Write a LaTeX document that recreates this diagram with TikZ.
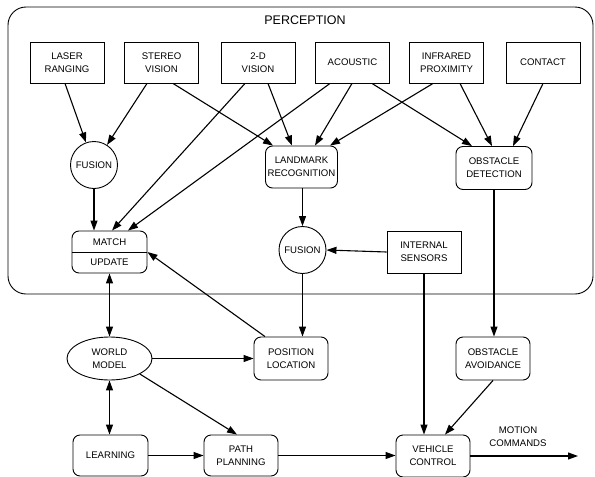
\documentclass[tikz,border=0pt]{standalone}
\usepackage{fontspec}
\setmainfont{Liberation Sans}
\usetikzlibrary{arrows.meta,shapes.geometric,calc}
\begin{document}
\begin{tikzpicture}[x=1pt,y=-1pt,
  every node/.style={font=\fontsize{9.6}{12.8}\selectfont, align=center, inner sep=0pt},
  sensor/.style={draw, line width=0.9pt, minimum width=74pt, minimum height=41pt},
  proc/.style={draw, line width=0.9pt, rounded corners=7pt, minimum width=74pt, minimum height=42pt},
  fuse/.style={draw, circle, line width=0.9pt, minimum size=47pt},
  tip/.style={Triangle[length=10pt,width=7pt]},
  arr/.style={line width=1.1pt, -{Triangle[length=10pt,width=7pt]}},
  darr/.style={line width=1.1pt, {Triangle[length=10pt,width=7pt]}-{Triangle[length=10pt,width=7pt]}},
  plain/.style={line width=1.1pt}
]
\useasboundingbox (0,0) rectangle (595,477);

% perception subsystem frame
\draw[line width=0.9pt, rounded corners=18pt] (8,7) rectangle (593,294);
\node[font=\fontsize{12.5}{14}\selectfont] (perc) at (305,20) {PERCEPTION};

% sensors
\node[sensor] (laser)    at (67,62.5)    {LASER\\RANGING};
\node[sensor] (stereo)   at (161.5,62.5) {STEREO\\VISION};
\node[sensor] (twod)     at (258,62.5)   {2-D\\VISION};
\node[sensor] (acoustic) at (352.5,62.5) {ACOUSTIC};
\node[sensor] (infra)    at (446.5,62.5) {INFRARED\\PROXIMITY};
\node[sensor] (contact)  at (543,62.5)   {CONTACT};

% perception processing
\node[fuse] (fus1) at (94,165) {FUSION};
\node[proc, minimum width=72pt] (land) at (301.5,167) {LANDMARK\\RECOGNITION};
\node[proc, minimum width=76pt, minimum height=43pt] (obsdet) at (494,168) {OBSTACLE\\DETECTION};
\node[proc, minimum width=75pt] (match) at (109.5,252) {};
\draw[line width=0.9pt] (match.west) -- (match.east);
\node (matchtxt)  at (109.5,242) {MATCH};
\node (updatetxt) at (109.5,262.5) {UPDATE};
\node[fuse] (fus2) at (302.5,250) {FUSION};
\node[sensor, minimum height=42pt] (intsens) at (424,252) {INTERNAL\\SENSORS};

% planning and control
\node[draw, ellipse, line width=0.9pt, minimum width=85pt, minimum height=43pt] (world) at (109.5,358.5) {WORLD\\MODEL};
\node[proc, minimum height=43pt] (pos)   at (291,358.5) {POSITION\\LOCATION};
\node[proc, minimum height=43pt] (obsav) at (493,358.5) {OBSTACLE\\AVOIDANCE};
\node[proc, minimum width=75pt, minimum height=41pt] (learn) at (110.5,455.5) {LEARNING};
\node[proc, minimum height=41pt] (path) at (241,455.5) {PATH\\PLANNING};
\node[proc] (veh) at (433,456) {VEHICLE\\CONTROL};
\coordinate (out) at (578,456);
\node (motion) at (518,437) {MOTION\\COMMANDS};

% sensor data flow
\draw[arr] ([xshift=-2pt]laser.south) -- (fus1);
\draw[arr] ([xshift=-14.5pt]stereo.south) -- (fus1);
\draw[arr] ([xshift=11.5pt]stereo.south) -- ([xshift=-28.5pt]land.north);
\draw[arr] ([xshift=-13pt]twod.south) -- ([xshift=2.5pt]match.north);
\draw[arr] ([xshift=10pt]twod.south) -- ([xshift=-9.5pt]land.north);
\draw[arr] ([xshift=-22.5pt]acoustic.south) -- ([xshift=18.5pt]match.north);
\draw[arr] ([xshift=-0.5pt]acoustic.south) -- ([xshift=13.5pt]land.north);
\draw[arr] ([xshift=19.5pt]acoustic.south) -- ([xshift=-22pt]obsdet.north);
\draw[arr] ([xshift=-13.5pt]infra.south) -- ([xshift=28.5pt]land.north);
\draw[arr] ([xshift=13.5pt]infra.south) -- ([xshift=-2pt]obsdet.north);
\draw[arr] (contact.south) -- ([xshift=19pt]obsdet.north);

% internal flow
\draw[arr] (fus1.south) -- (fus1.south |- match.north);
\draw[arr] (land.south) -- (land.south -| fus2.north) -- (fus2.north);
\draw[arr] (intsens.west) -- (fus2.east);
\draw[arr] (fus2.south) -- (fus2.south |- pos.north);
\draw[arr] ([xshift=-26pt]pos.north) -- (match.east);
\draw[arr] (obsdet.south) -- (obsdet.south |- obsav.north);
\draw[arr] (intsens.south) -- (intsens.south |- veh.north);
\draw[arr] (obsav.south) -- ([xshift=12pt]veh.north);

% world model and planning
\draw[darr] (match.south) -- (world.north);
\draw[darr] (world.south) -- (world.south |- learn.north);
\draw[arr] (world.east) -- (world.east -| pos.west);
\draw[arr] (world.south east) -- ([xshift=-4pt]path.north);
\draw[arr] (learn.east) -- (learn.east -| path.west);
\draw[arr] (path.east) -- (path.east -| veh.west);
\draw[arr] (veh.east) -- (out);
\end{tikzpicture}
\end{document}
